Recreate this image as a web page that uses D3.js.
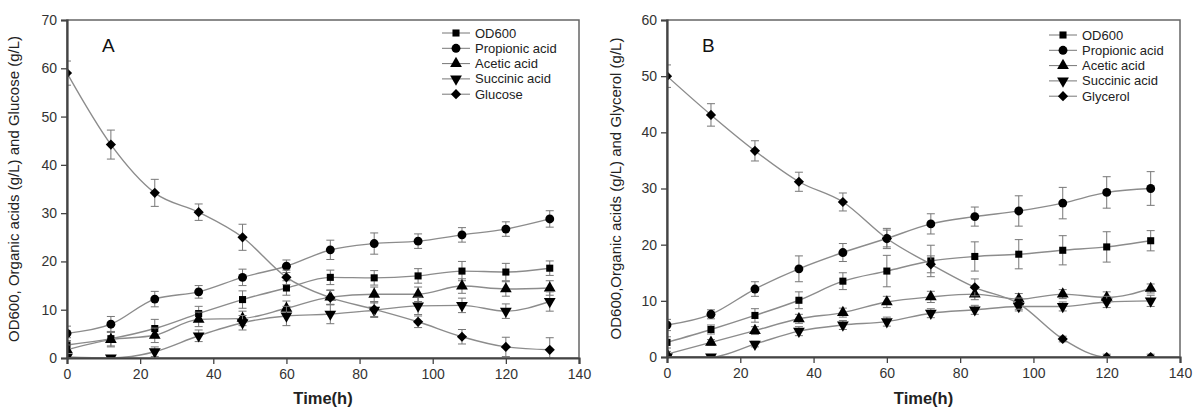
<!DOCTYPE html>
<html>
<head>
<meta charset="utf-8">
<script src="https://cdn.jsdelivr.net/npm/d3@7"></script>
<style>
  body { margin: 0; background: #fff; }
  svg { font-family: Arial, "Liberation Sans", sans-serif; }
</style>
</head>
<body>
<svg width="1195" height="410"></svg>
<script>
// sampling times (h)
var hours = [0, 12, 24, 36, 48, 60, 72, 84, 96, 108, 120, 132];
var xTicks = [0, 20, 40, 60, 80, 100, 120, 140];
var seriesNames = ["OD600", "Propionic acid", "Acetic acid", "Succinic acid"];

// panel A - glucose
var odA        = [2.7, 4.0, 6.1, 9.2, 12.1, 14.5, 16.7, 16.6, 17.0, 18.0, 17.8, 18.6];
var odA_err    = [1.5, 1.5, 1.9, 1.5, 1.8, 1.5, 1.5, 1.5, 1.5, 2.0, 1.8, 1.5];
var propA      = [5.1, 7.0, 12.2, 13.7, 16.7, 19.0, 22.4, 23.7, 24.2, 25.5, 26.7, 28.8];
var propA_err  = [1.5, 1.6, 1.6, 1.3, 1.7, 1.3, 2.0, 2.2, 1.5, 1.5, 1.5, 1.7];
var aceA       = [1.7, 3.8, 4.7, 8.0, 8.2, 10.3, 12.6, 13.2, 13.2, 14.9, 14.3, 14.5];
var aceA_err   = [1.0, 1.5, 1.5, 1.5, 1.5, 1.5, 1.5, 1.5, 1.5, 1.5, 1.5, 1.5];
var sucA       = [0.2, 0.0, 1.3, 4.6, 7.3, 8.7, 9.1, 9.9, 10.8, 10.9, 9.7, 11.7];
var sucA_err   = [0.5, 0.5, 1.0, 1.2, 1.5, 2.0, 2.0, 1.5, 1.8, 1.5, 1.5, 2.0];
var glucose    = [59.0, 44.2, 34.2, 30.2, 25.0, 16.7, 12.5, 10.1, 7.5, 4.4, 2.3, 1.7];
var glucose_err= [2.5, 3.0, 2.8, 1.7, 2.7, 1.5, 1.5, 1.5, 1.2, 1.5, 2.0, 2.5];
var yTicksA = [0, 10, 20, 30, 40, 50, 60, 70];

// panel B - glycerol
var odB        = [2.6, 4.9, 7.4, 10.1, 13.5, 15.3, 17.1, 17.9, 18.3, 19.0, 19.6, 20.7];
var odB_err    = [1.0, 0.8, 1.2, 1.5, 1.5, 2.8, 2.8, 2.6, 2.6, 2.6, 2.7, 1.8];
var propB      = [5.7, 7.6, 12.1, 15.7, 18.6, 21.1, 23.7, 25.0, 26.0, 27.4, 29.3, 30.0];
var propB_err  = [1.0, 0.8, 1.3, 2.3, 1.6, 1.8, 1.8, 1.7, 2.7, 2.8, 2.8, 3.0];
var aceB       = [0.5, 2.6, 4.7, 6.8, 7.9, 9.8, 10.7, 11.2, 10.3, 11.2, 10.6, 12.2];
var aceB_err   = [0.5, 0.5, 0.7, 0.8, 0.8, 1.0, 1.0, 1.0, 1.0, 0.8, 1.0, 0.8];
var sucB       = [0.0, 0.0, 2.3, 4.6, 5.7, 6.3, 7.8, 8.4, 9.0, 9.0, 9.8, 10.0];
var sucB_err   = [0.3, 0.3, 0.5, 0.8, 0.8, 0.8, 0.8, 0.8, 0.8, 0.8, 1.0, 1.0];
var glycerol   = [50.0, 43.1, 36.7, 31.2, 27.6, 21.1, 16.5, 12.4, 9.5, 3.2, 0.0, 0.0];
var glycerol_err=[2.0, 2.0, 1.8, 1.7, 1.6, 1.5, 1.5, 1.5, 1.0, 0.5, 0.5, 0.5];
var yTicksB = [0, 10, 20, 30, 40, 50, 60];

var svg = d3.select("svg");

// square, circle, triangle, down triangle, diamond (square turned 45deg)
function markerPath(si) {
    var sizes = [50, 62, 60, 60, 52];
    var types = [d3.symbolSquare, d3.symbolCircle, d3.symbolTriangle, d3.symbolTriangle, d3.symbolSquare];
    return d3.symbol().type(types[si]).size(sizes[si])();
}
function markerRot(si) {
    return si === 3 ? " rotate(180)" : si === 4 ? " rotate(45)" : "";
}

function drawPanel(p) {
    var x = d3.scaleLinear().domain([0, 140]).range([p.left, p.right]);
    var y = d3.scaleLinear().domain([0, p.ymax]).range([p.bottom, p.top]);

    var g = svg.append("g");

    svg.append("clipPath").attr("id", "clip" + p.letter)
        .append("rect")
        .attr("x", p.left).attr("y", p.top)
        .attr("width", p.right - p.left).attr("height", p.bottom - p.top);

    var plot = g.append("g").attr("clip-path", "url(#clip" + p.letter + ")");

    // series
    p.series.forEach(function (s, si) {
        var pts = hours.map(function (h, i) { return { t: h, v: s.values[i], e: s.err[i] }; });

        var line = d3.line()
            .x(d => x(d.t))
            .y(d => y(d.v))
            .curve(d3.curveMonotoneX);

        plot.append("path")
            .datum(pts)
            .attr("d", line)
            .attr("fill", "none")
            .attr("stroke", "#8c8c8c")
            .attr("stroke-width", 1.4);

        var eb = plot.append("g").attr("stroke", "#777").attr("stroke-width", 1);
        pts.forEach(function (d) {
            var cx = x(d.t), y1 = y(Math.max(0, d.v - d.e)), y2 = y(d.v + d.e);
            eb.append("line").attr("x1", cx).attr("x2", cx).attr("y1", y1).attr("y2", y2);
            eb.append("line").attr("x1", cx - 4).attr("x2", cx + 4).attr("y1", y1).attr("y2", y1);
            eb.append("line").attr("x1", cx - 4).attr("x2", cx + 4).attr("y1", y2).attr("y2", y2);
        });

        plot.selectAll(".m" + si)
            .data(pts)
            .enter().append("path")
            .attr("d", markerPath(si))
            .attr("transform", d => "translate(" + x(d.t) + "," + y(d.v) + ")" + markerRot(si))
            .attr("fill", "#000");
    });

    // frame (top/right)
    g.append("rect")
        .attr("x", p.left).attr("y", p.top)
        .attr("width", p.right - p.left).attr("height", p.bottom - p.top)
        .attr("fill", "none").attr("stroke", "#666").attr("stroke-width", 1.5);

    // axes
    var minorX = d3.range(0, 141, 10);
    var minorY = d3.range(0, p.ymax + 1, 5);

    var xg = g.append("g").attr("transform", "translate(0," + p.bottom + ")");
    xg.call(d3.axisBottom(x).tickValues(minorX).tickSize(4).tickFormat(""));
    xg.call(d3.axisBottom(x).tickValues(xTicks).tickSize(6).tickPadding(5).tickFormat(d3.format("d")));
    var yg = g.append("g").attr("transform", "translate(" + p.left + ",0)");
    yg.call(d3.axisLeft(y).tickValues(minorY).tickSize(4).tickFormat(""));
    yg.call(d3.axisLeft(y).tickValues(p.yTicks).tickSize(6).tickPadding(4).tickFormat(d3.format("d")));

    g.selectAll(".domain").attr("stroke", "#444").attr("stroke-width", 2.2);
    g.selectAll(".tick line").attr("stroke", "#444").attr("stroke-width", 1.3);
    g.selectAll(".tick text").attr("fill", "#333").style("font-size", "14px");

    // panel letter
    g.append("text")
        .attr("x", p.left + 35).attr("y", p.top + 32)
        .style("font-size", "19px").attr("fill", "#111")
        .text(p.letter);

    // legend
    var lg = g.append("g").attr("transform", "translate(" + p.legendX + "," + p.legendY + ")");
    p.series.forEach(function (s, si) {
        var row = lg.append("g").attr("transform", "translate(0," + si * 15.3 + ")");
        row.append("line").attr("x1", 0).attr("x2", 28).attr("y1", 0).attr("y2", 0)
            .attr("stroke", "#777").attr("stroke-width", 1);
        row.append("path").attr("d", markerPath(si))
            .attr("transform", "translate(14,0)" + markerRot(si))
            .attr("fill", "#000");
        row.append("text").attr("x", 33).attr("y", 4.5)
            .style("font-size", "13px").attr("fill", "#222")
            .text(s.name);
    });

    // axis titles
    g.append("text")
        .attr("transform", "translate(" + p.ytitleX + "," + ((p.top + p.bottom) / 2) + ") rotate(-90)")
        .attr("text-anchor", "middle")
        .style("font-size", "15px").attr("fill", "#222")
        .text(p.ytitle);

    g.append("text")
        .attr("x", (p.left + p.right) / 2).attr("y", 404)
        .attr("text-anchor", "middle")
        .style("font-size", "16.5px").style("font-weight", "bold").attr("fill", "#222")
        .text("Time(h)");
}

drawPanel({
    left: 67, right: 579, top: 20, bottom: 358, ymax: 70, yTicks: yTicksA,
    letter: "A", legendX: 442, legendY: 33, ytitleX: 19,
    ytitle: "OD600, Organic acids (g/L) and Glucose (g/L)",
    series: [
        { name: seriesNames[0], values: odA, err: odA_err },
        { name: seriesNames[1], values: propA, err: propA_err },
        { name: seriesNames[2], values: aceA, err: aceA_err },
        { name: seriesNames[3], values: sucA, err: sucA_err },
        { name: "Glucose", values: glucose, err: glucose_err }
    ]
});

drawPanel({
    left: 667, right: 1180, top: 20, bottom: 357, ymax: 60, yTicks: yTicksB,
    letter: "B", legendX: 1049, legendY: 35, ytitleX: 621,
    ytitle: "OD600,Organic acids (g/L) and Glycerol (g/L)",
    series: [
        { name: seriesNames[0], values: odB, err: odB_err },
        { name: seriesNames[1], values: propB, err: propB_err },
        { name: seriesNames[2], values: aceB, err: aceB_err },
        { name: seriesNames[3], values: sucB, err: sucB_err },
        { name: "Glycerol", values: glycerol, err: glycerol_err }
    ]
});
</script>
</body>
</html>
